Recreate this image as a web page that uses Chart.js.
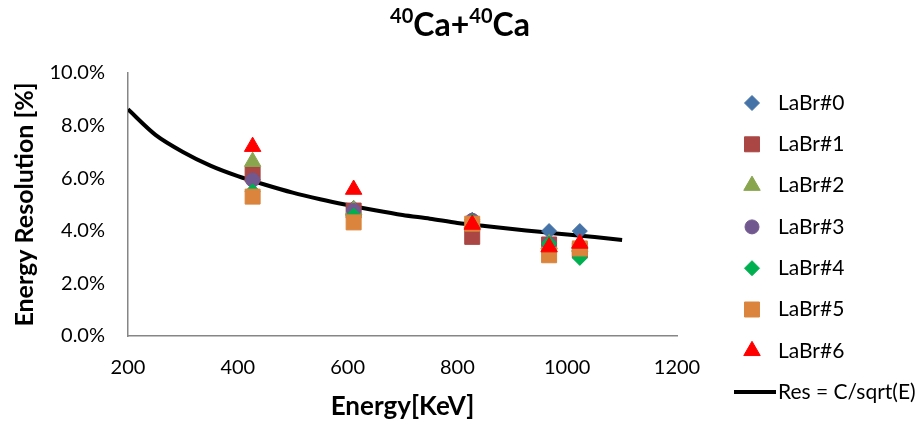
<!DOCTYPE html>
<html lang="en">
<head>
<meta charset="UTF-8">
<title>Energy Resolution</title>
<script src="https://cdn.jsdelivr.net/npm/chart.js"></script>
<style>
  body { margin: 0; background: #ffffff; }
  .wrap { width: 920px; height: 424px; position: relative; }
</style>
</head>
<body>
<div class="wrap"><canvas id="resChart"></canvas></div>
<script>
// gamma line energies (keV) and measured resolution (%) per detector
const energies = [427, 611, 827, 967, 1023];
const labBr0 = [5.95, 4.87, 4.42, 3.99, 3.99];
const labBr1 = [6.15, 4.77, 3.77, 3.48, 3.26];
const labBr2 = [6.63, 4.8, 4.3, 3.5, 3.4];
const labBr3 = [5.93, 4.77, 4.4, 3.5, 3.4];
const labBr4 = [5.5, 4.58, 4.36, 3.52, 2.97];
const labBr5 = [5.3, 4.32, 4.27, 3.07, 3.33];
const labBr6 = [7.2, 5.57, 4.24, 3.38, 3.52];

// fitted curve Res = C/sqrt(E)
const fitEnergy = [200, 250, 300, 350, 400, 450, 500, 550, 600, 650, 700, 750, 800, 850, 900, 950, 1000, 1050, 1100];
const fitRes = [8.62, 7.65, 7.0, 6.48, 6.08, 5.75, 5.45, 5.2, 4.98, 4.78, 4.6, 4.46, 4.3, 4.18, 4.07, 3.96, 3.86, 3.76, 3.65];

const xTicks = [200, 400, 600, 800, 1000, 1200];
const yTicks = [0, 2, 4, 6, 8, 10];

const FONT = "Lato, 'Liberation Sans', sans-serif";

const series = [
  { label: 'LaBr#0', data: labBr0, color: '#4572A7', style: 'rectRot', r: 7.5 },
  { label: 'LaBr#1', data: labBr1, color: '#AA4643', style: 'rect', r: 10.6 },
  { label: 'LaBr#2', data: labBr2, color: '#89A54E', style: 'triangle', r: 9.5 },
  { label: 'LaBr#3', data: labBr3, color: '#71588F', style: 'circle', r: 7 },
  { label: 'LaBr#4', data: labBr4, color: '#00B050', style: 'rectRot', r: 7.5 },
  { label: 'LaBr#5', data: labBr5, color: '#DB843D', style: 'rect', r: 10.6 },
  { label: 'LaBr#6', data: labBr6, color: '#FF0000', style: 'triangle', r: 9.5 }
];

const datasets = series.map((s, i) => ({
  type: 'scatter',
  label: s.label,
  data: energies.map((e, k) => ({ x: e, y: s.data[k] })),
  pointStyle: s.style,
  pointRadius: s.r,
  pointHoverRadius: s.r,
  pointBackgroundColor: s.color,
  pointBorderColor: s.color,
  pointBorderWidth: 1,
  showLine: false,
  order: 6 - i
}));

datasets.push({
  type: 'line',
  label: 'Res = C/sqrt(E)',
  data: fitEnergy.map((e, k) => ({ x: e, y: fitRes[k] })),
  borderColor: '#000000',
  borderWidth: 4,
  pointRadius: 0,
  tension: 0.3,
  fill: false,
  order: 10
});

// title with superscript mass numbers
const titlePlugin = {
  id: 'supTitle',
  afterDraw(chart) {
    const ctx = chart.ctx;
    const parts = [
      { t: '40', size: 20, dy: -13 },
      { t: 'Ca+', size: 32, dy: 0 },
      { t: '40', size: 20, dy: -13 },
      { t: 'Ca', size: 32, dy: 0 }
    ];
    ctx.save();
    ctx.fillStyle = '#000';
    ctx.textBaseline = 'alphabetic';
    let total = 0;
    parts.forEach(p => {
      ctx.font = `bold ${p.size}px ${FONT}`;
      p.w = ctx.measureText(p.t).width;
      total += p.w;
    });
    let x = 460 - total / 2;
    parts.forEach(p => {
      ctx.font = `bold ${p.size}px ${FONT}`;
      ctx.fillText(p.t, x, 36 + p.dy);
      x += p.w;
    });
    ctx.restore();
  }
};

// legend column on the right
const legendPlugin = {
  id: 'sideLegend',
  afterDraw(chart) {
    const ctx = chart.ctx;
    const markX = 752, textX = 778, top = 103, step = 41.3;
    ctx.save();
    ctx.font = `21px ${FONT}`;
    ctx.textBaseline = 'middle';
    series.forEach((s, i) => {
      const y = top + i * step;
      ctx.fillStyle = s.color;
      ctx.strokeStyle = s.color;
      ctx.lineWidth = 1;
      Chart.helpers.drawPoint(ctx, { pointStyle: s.style, radius: s.r, rotation: 0, borderWidth: 1 }, markX, y);
      ctx.fillStyle = '#000';
      ctx.fillText(s.label, textX, y);
    });
    const ly = top + series.length * step;
    ctx.strokeStyle = '#000';
    ctx.lineWidth = 4;
    ctx.beginPath();
    ctx.moveTo(734, ly);
    ctx.lineTo(776, ly);
    ctx.stroke();
    ctx.fillStyle = '#000';
    ctx.fillText('Res = C/sqrt(E)', textX, ly);
    ctx.restore();
  }
};

new Chart(document.getElementById('resChart'), {
  data: { datasets },
  options: {
    responsive: true,
    maintainAspectRatio: false,
    animation: false,
    layout: { padding: { left: 0, right: 243, top: 73, bottom: 0 } },
    plugins: {
      legend: { display: false },
      title: { display: false },
      tooltip: { enabled: false }
    },
    scales: {
      x: {
        type: 'linear',
        min: 200,
        max: 1200,
        afterFit(scale) { scale.height = 88; },
        afterBuildTicks(scale) { scale.ticks = xTicks.map(v => ({ value: v })); },
        grid: { display: false, drawTicks: false },
        border: { display: true, color: '#868686', width: 1.5 },
        ticks: { color: '#000', padding: 20, maxRotation: 0, font: { family: FONT, size: 20 }, callback: v => String(v) },
        title: {
          display: true,
          text: 'Energy[KeV]',
          color: '#000',
          padding: { top: 0, bottom: 2 },
          font: { family: FONT, size: 26, weight: 'bold', lineHeight: 1.2 }
        }
      },
      y: {
        type: 'linear',
        min: 0,
        max: 10,
        afterFit(scale) { scale.width = 128; },
        afterBuildTicks(scale) { scale.ticks = yTicks.map(v => ({ value: v })); },
        grid: { display: false, drawTicks: false },
        border: { display: true, color: '#868686', width: 1.5 },
        ticks: {
          color: '#000',
          padding: 23,
          font: { family: FONT, size: 20 },
          callback: v => v.toFixed(1) + '%'
        },
        title: {
          display: true,
          text: 'Energy Resolution [%]',
          color: '#000',
          padding: { top: 10, bottom: 0 },
          font: { family: FONT, size: 25, weight: 'bold', lineHeight: 1.2 }
        }
      }
    }
  },
  plugins: [titlePlugin, legendPlugin]
});
</script>
</body>
</html>
